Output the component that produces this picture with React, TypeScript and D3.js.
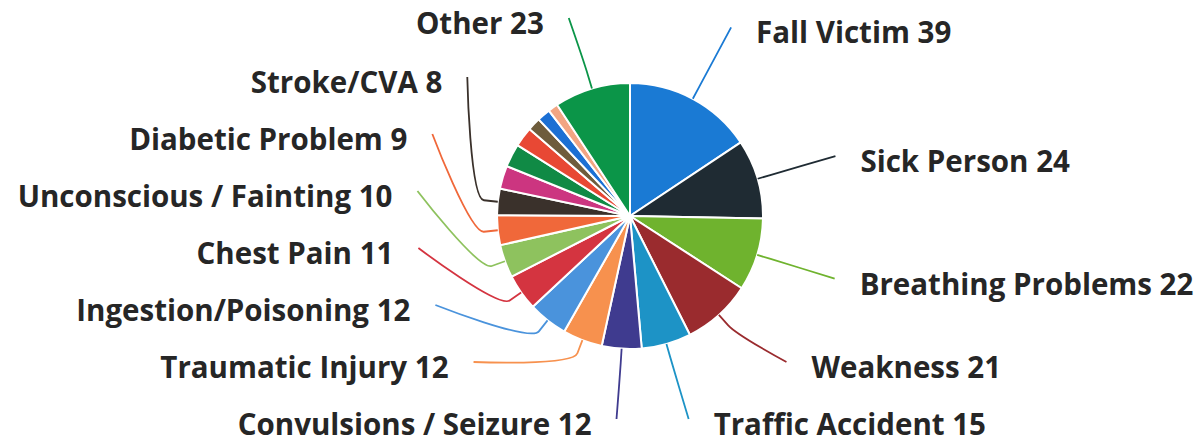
import React, { useEffect, useRef } from 'react';
import * as d3 from 'd3';

// slices in drawing order, clockwise from 12 o'clock
const categories = [
  'Fall Victim', 'Sick Person', 'Breathing Problems', 'Weakness', 'Traffic Accident',
  'Convulsions / Seizure', 'Traumatic Injury', 'Ingestion/Poisoning', 'Chest Pain',
  'Unconscious / Fainting', 'Diabetic Problem', 'Stroke/CVA',
  '', '', '', '', '', '', // small slices, no label shown
  'Other',
];
const values = [39, 24, 22, 21, 15, 12, 12, 12, 11, 10, 9, 8, 7, 7, 6, 4, 4, 3, 23];
const colors = [
  '#1a7ad4', '#1f2b33', '#6fb32e', '#9a2b2e', '#1d93c6', '#3f3b8f', '#f7914e',
  '#4a93dc', '#d43440', '#8ec25e', '#f0683a', '#3a312b',
  '#cc3580', '#108a45', '#e84834', '#6e5c3c', '#1b6fd4', '#f2a583', '#0b9548',
];

const App: React.FC = () => {
  const svgRef = useRef<SVGSVGElement>(null);

  useEffect(() => {
    const width = 1198;
    const height = 445;
    const cx = 630;
    const cy = 216;
    const r = 133;
    const labelR = 214;
    const gap = 57;
    const pad = 25;
    const top = 18 - cy;
    const bottom = 419 - cy;

    const svg = d3.select(svgRef.current)
      .attr('width', width)
      .attr('height', height);
    svg.selectAll('*').remove();

    const data = categories.map((name, i) => ({ name, value: values[i], color: colors[i] }));
    const arcs = d3.pie<any>().sort(null).value((d: any) => d.value)(data);
    const arc = d3.arc<any>().innerRadius(0).outerRadius(r);

    const g = svg.append('g').attr('transform', `translate(${cx},${cy})`);

    g.selectAll('path.slice')
      .data(arcs)
      .enter().append('path')
      .attr('class', 'slice')
      .attr('d', arc)
      .attr('fill', (d: any) => d.data.color)
      .attr('stroke', '#fff')
      .attr('stroke-width', 2)
      .attr('stroke-linejoin', 'round');

    // label positions: natural spot on the label circle, then spread apart
    const labels = arcs.filter((a: any) => a.data.name).map((a: any) => {
      const mid = (a.startAngle + a.endAngle) / 2;
      const nat = -labelR * Math.cos(mid);
      return { a, mid, right: mid < Math.PI, nat, y: nat, yX: nat, x: 0 };
    });

    [true, false].forEach((side) => {
      const list = labels.filter((l) => l.right === side).sort((p, q) => p.nat - q.nat);
      const n = list.length;
      const clamped = list.map(() => false);
      for (let i = n - 1; i >= 0; i--) {
        if (i === n - 1) {
          if (list[i].nat > bottom) clamped[i] = true;
          list[i].y = Math.min(list[i].nat, bottom);
        } else {
          list[i].y = Math.min(list[i].nat, list[i + 1].y - gap);
        }
      }
      for (let i = 0; i < n; i++) {
        if (i === 0) {
          if (list[i].y < top) clamped[i] = true;
          list[i].y = Math.max(list[i].y, top);
        } else {
          list[i].y = Math.max(list[i].y, list[i - 1].y + gap);
        }
      }
      list.forEach((l, i) => {
        l.yX = clamped[i] ? l.nat : l.y;
        const dx = Math.sqrt(Math.max(0, labelR * labelR - l.yX * l.yX));
        l.x = side ? dx : -dx;
      });
    });

    labels.forEach((l) => {
      const s = l.right ? 1 : -1;
      const sin = Math.sin(l.mid);
      const cos = -Math.cos(l.mid);
      const base = [r * sin, r * cos];
      const brk = [(r + 14) * sin, (r + 14) * cos];
      const ctrl = [2 * brk[0] - base[0], 2 * brk[1] - base[1]];
      const path = `M${l.x},${l.y}C${l.x},${l.y} ${ctrl[0]},${ctrl[1]} ${brk[0]},${brk[1]}L${base[0]},${base[1]}`;

      g.append('path')
        .attr('d', path)
        .attr('fill', 'none')
        .attr('stroke', l.a.data.color)
        .attr('stroke-width', 1.8);

      g.append('text')
        .attr('x', l.x + s * pad)
        .attr('y', l.y + 16)
        .attr('text-anchor', l.right ? 'start' : 'end')
        .attr('font-family', "'Open Sans', sans-serif")
        .attr('font-weight', 700)
        .attr('font-size', 29.5)
        .attr('fill', '#262626')
        .text(`${l.a.data.name} ${l.a.data.value}`);
    });
  }, []);

  return (
    <svg ref={svgRef} style={{ position: 'absolute', left: 0, top: 0, background: '#fff' }}></svg>
  );
};

export default App;
